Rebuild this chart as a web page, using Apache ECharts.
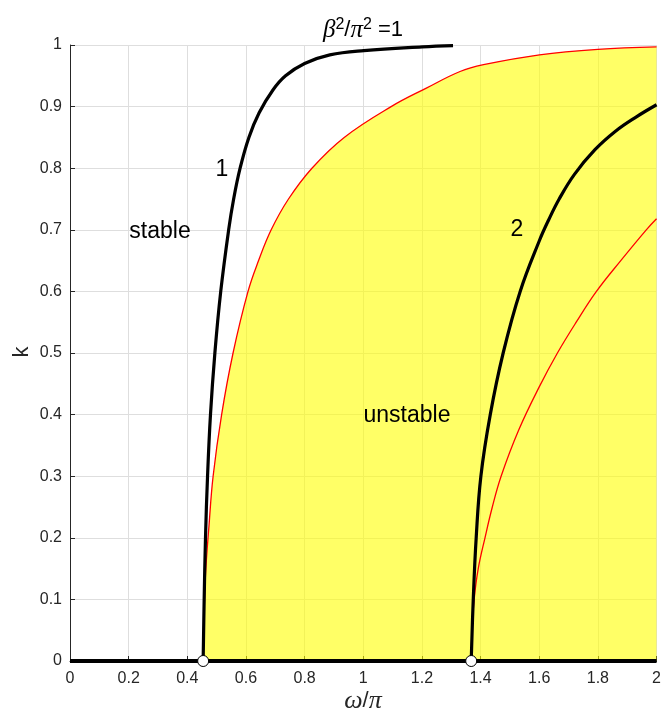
<!DOCTYPE html>
<html>
<head>
<meta charset="utf-8">
<script src="https://cdn.jsdelivr.net/npm/echarts@6/dist/echarts.min.js"></script>
<style>
html, body { margin: 0; padding: 0; background: #fff; }
#chart { width: 664px; height: 718px; }
</style>
</head>
<body>
<div id="chart"></div>
<script>
// curves, [omega/pi, k]
var stable1 = [[0.454, 0], [0.4575, 0.10], [0.462, 0.20], [0.469, 0.30], [0.479, 0.40], [0.494, 0.50],
  [0.514, 0.60], [0.541, 0.70], [0.558, 0.75], [0.580, 0.80], [0.610, 0.85], [0.645, 0.89],
  [0.692, 0.927], [0.735, 0.95], [0.800, 0.970], [0.886, 0.984], [1.002, 0.991], [1.201, 0.997],
  [1.306, 0.999]];
var unstable1 = [[0.454, 0], [0.457, 0.07], [0.462, 0.14], [0.474, 0.22], [0.488, 0.30], [0.517, 0.40],
  [0.556, 0.50], [0.607, 0.60], [0.643, 0.65], [0.686, 0.70], [0.745, 0.75], [0.825, 0.80],
  [0.935, 0.85], [1.095, 0.90], [1.215, 0.93], [1.330, 0.957], [1.410, 0.968],
  [1.601, 0.984], [1.800, 0.993], [2.0, 0.997]];
var stable2 = [[1.368, 0], [1.375, 0.10], [1.385, 0.20], [1.401, 0.30], [1.433, 0.40], [1.477, 0.50],
  [1.535, 0.60], [1.601, 0.683], [1.632, 0.716], [1.668, 0.75], [1.720, 0.79], [1.790, 0.83],
  [1.860, 0.86], [1.930, 0.883], [2.0, 0.903]];
var unstable2 = [[1.368, 0], [1.371, 0.05], [1.378, 0.10], [1.392, 0.15], [1.415, 0.20], [1.440, 0.25],
  [1.470, 0.30], [1.530, 0.375], [1.600, 0.445], [1.662, 0.50], [1.726, 0.55], [1.795, 0.60],
  [1.878, 0.65], [1.965, 0.70], [2.0, 0.718]];
var baseLine = [[0, 0], [2, 0]];
var roots = [[0.454, 0], [1.368, 0]];

var myChart = echarts.init(document.getElementById('chart'));
var font = "'Liberation Sans', Arial, sans-serif";
var mathFont = "'Liberation Serif', 'DejaVu Serif', serif";

option = {
  animation: false,
  grid: { left: 70, right: 7, top: 45, bottom: 57 },
  xAxis: {
    type: 'value', min: 0, max: 2, interval: 0.2,
    axisLine: { show: true, onZero: false, lineStyle: { color: '#262626', width: 1 } },
    axisTick: { show: true, inside: true, length: 5, lineStyle: { color: '#262626' } },
    axisLabel: { color: '#262626', fontSize: 16, fontFamily: font, margin: 10 },
    splitLine: { show: true, lineStyle: { color: '#dedede', width: 1 } }
  },
  yAxis: {
    type: 'value', min: 0, max: 1, interval: 0.1,
    axisLine: { show: true, lineStyle: { color: '#262626', width: 1 } },
    axisTick: { show: true, inside: true, length: 5, lineStyle: { color: '#262626' } },
    axisLabel: { color: '#262626', fontSize: 16, fontFamily: font, margin: 8 },
    splitLine: { show: true, lineStyle: { color: '#dedede', width: 1 } }
  },
  series: [
    {
      type: 'line', data: unstable1, smooth: 0.4, symbol: 'none', z: 2,
      lineStyle: { color: '#ff0000', width: 1.3 },
      areaStyle: { color: '#ffff00', opacity: 0.6 }
    },
    {
      type: 'line', data: unstable2, smooth: 0.4, symbol: 'none', z: 3,
      lineStyle: { color: '#ff0000', width: 1.3 }
    },
    {
      type: 'line', data: stable1, smooth: 0.4, symbol: 'none', z: 4, clip: false,
      lineStyle: { color: '#000', width: 3.2 }
    },
    {
      type: 'line', data: stable2, smooth: 0.4, symbol: 'none', z: 4,
      lineStyle: { color: '#000', width: 3.2 }
    },
    {
      type: 'line', data: baseLine, symbol: 'none', z: 5, clip: false,
      lineStyle: { color: '#000', width: 4 }
    },
    {
      type: 'scatter', data: roots, symbol: 'circle', symbolSize: 11, z: 6, clip: false,
      itemStyle: { color: '#fff', borderColor: '#000', borderWidth: 1, opacity: 1 }
    }
  ],
  graphic: [
    {
      type: 'text', x: 363, y: 30, z: 10,
      style: {
        text: '{g|\u03b2}{s|2}{n|/}{g|\u03c0}{s|2}{n| =1}',
        align: 'center', verticalAlign: 'middle',
        rich: {
          g: { fontFamily: mathFont, fontStyle: 'italic', fontSize: 25, lineHeight: 26, fill: '#000' },
          n: { fontFamily: font, fontSize: 22, lineHeight: 26, fill: '#000' },
          s: { fontFamily: font, fontSize: 16, lineHeight: 16, verticalAlign: 'top', fill: '#000' }
        }
      }
    },
    { type: 'text', x: 222, y: 170, z: 10,
      style: { text: '1', font: '23px ' + font, fill: '#000', align: 'center', verticalAlign: 'middle' } },
    { type: 'text', x: 160, y: 232, z: 10,
      style: { text: 'stable', font: '23px ' + font, fill: '#000', align: 'center', verticalAlign: 'middle' } },
    { type: 'text', x: 517, y: 230, z: 10,
      style: { text: '2', font: '23px ' + font, fill: '#000', align: 'center', verticalAlign: 'middle' } },
    { type: 'text', x: 407, y: 416, z: 10,
      style: { text: 'unstable', font: '23px ' + font, fill: '#000', align: 'center', verticalAlign: 'middle' } },
    { type: 'text', x: 22, y: 352, rotation: Math.PI / 2, z: 10,
      style: { text: 'k', font: '22px ' + font, fill: '#262626', align: 'center', verticalAlign: 'middle' } },
    {
      type: 'text', x: 363, y: 701, z: 10,
      style: {
        text: '{g|\u03c9}{n|/}{g|\u03c0}',
        align: 'center', verticalAlign: 'middle',
        rich: {
          g: { fontFamily: mathFont, fontStyle: 'italic', fontSize: 26, fill: '#262626' },
          n: { fontFamily: font, fontSize: 22, fill: '#262626' }
        }
      }
    }
  ]
};
myChart.setOption(option);
</script>
</body>
</html>
